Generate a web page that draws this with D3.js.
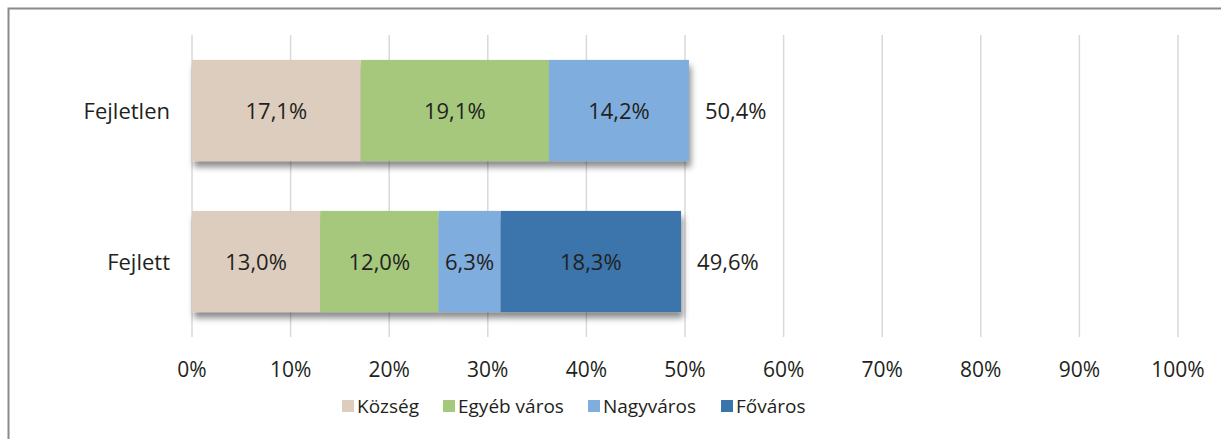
<!DOCTYPE html>
<html>
<head>
<meta charset="utf-8">
<script src="https://cdn.jsdelivr.net/npm/d3@7"></script>
<style>
  body { margin: 0; background: #fff; }
  text { font-family: "Open Sans", "Noto Sans", sans-serif; fill: #231f20; }
</style>
</head>
<body>
<svg id="chart"></svg>
<script>
var width = 1221,
    height = 439;

// data
var categories = ['Fejletlen', 'Fejlett'];
var seriesNames = ['Község', 'Egyéb város', 'Nagyváros', 'Főváros'];
var seriesColors = ['#ddcdbe', '#a5c87d', '#7fadde', '#3b74ab'];
var kozseg = [17.1, 13.0];
var egyebVaros = [19.1, 12.0];
var nagyvaros = [14.2, 6.3];
var fovaros = [0, 18.3];
var totals = [50.4, 49.6];
var tickValues = [0, 10, 20, 30, 40, 50, 60, 70, 80, 90, 100];

var rows = categories.map(function(c, i) {
  return { cat: c, 'Község': kozseg[i], 'Egyéb város': egyebVaros[i],
           'Nagyváros': nagyvaros[i], 'Főváros': fovaros[i], total: totals[i] };
});

var svg = d3.select('#chart')
    .attr('width', width)
    .attr('height', height);

var defs = svg.append('defs');
var f = defs.append('filter').attr('id', 'shadow')
    .attr('x', '-5%').attr('y', '-10%').attr('width', '115%').attr('height', '140%');
f.append('feDropShadow')
  .attr('dx', 2).attr('dy', 6).attr('stdDeviation', 3)
  .attr('flood-color', '#000').attr('flood-opacity', 0.45);

// outer frame
svg.append('rect')
  .attr('x', 8.5).attr('y', 8.5)
  .attr('width', width + 10).attr('height', height + 10)
  .attr('fill', 'none')
  .attr('stroke', '#8a8a8a')
  .attr('stroke-width', 2);

var x = d3.scaleLinear().domain([0, 100]).range([192, 1178]);
var y = d3.scaleBand().domain(categories).range([35, 337]).paddingInner(0.33).paddingOuter(0.165);

// gridlines
svg.append('g').selectAll('line')
  .data(tickValues)
  .enter().append('line')
  .attr('x1', function(d) { return x(d); })
  .attr('x2', function(d) { return x(d); })
  .attr('y1', 35).attr('y2', 337)
  .attr('stroke', '#d9d9d9')
  .attr('stroke-width', 1.5);

// tick labels
svg.append('g').selectAll('text')
  .data(tickValues)
  .enter().append('text')
  .attr('x', function(d) { return x(d); })
  .attr('y', 377)
  .attr('font-size', 21)
  .style('text-anchor', 'middle')
  .text(function(d) { return d + '%'; });

// category labels
svg.append('g').selectAll('text')
  .data(categories)
  .enter().append('text')
  .attr('x', 170)
  .attr('y', function(d) { return y(d) + y.bandwidth() / 2 + 8; })
  .attr('font-size', 22)
  .style('text-anchor', 'end')
  .text(function(d) { return d; });

var stack = d3.stack().keys(seriesNames);
var stacked = stack(rows);
var fmt = function(v) { return v.toFixed(1).replace('.', ',') + '%'; };

// bars, one shadowed group per row
categories.forEach(function(cat, i) {
  var g = svg.append('g').attr('filter', 'url(#shadow)');
  stacked.forEach(function(layer, k) {
    var d = layer[i];
    if (d[1] - d[0] <= 0) return;
    g.append('rect')
      .attr('x', x(d[0]))
      .attr('y', y(cat))
      .attr('width', x(d[1]) - x(d[0]))
      .attr('height', y.bandwidth())
      .attr('fill', seriesColors[k]);
  });
  stacked.forEach(function(layer, k) {
    var d = layer[i];
    if (d[1] - d[0] <= 0) return;
    svg.append('text')
      .attr('x', (x(d[0]) + x(d[1])) / 2)
      .attr('y', y(cat) + y.bandwidth() / 2 + 8)
      .attr('font-size', 22)
      .style('text-anchor', 'middle')
      .text(fmt(d[1] - d[0]));
  });
  svg.append('text')
    .attr('x', x(totals[i]) + 16)
    .attr('y', y(cat) + y.bandwidth() / 2 + 8)
    .attr('font-size', 22)
    .text(fmt(totals[i]));
});

// legend
var legendX = [342, 443, 588, 721];
var legend = svg.append('g').selectAll('g')
  .data(seriesNames)
  .enter().append('g')
  .attr('transform', function(d, i) { return 'translate(' + legendX[i] + ',400)'; });
legend.append('rect')
  .attr('width', 12).attr('height', 12)
  .attr('fill', function(d, i) { return seriesColors[i]; });
legend.append('text')
  .attr('x', 15).attr('y', 13)
  .attr('font-size', 19)
  .text(function(d) { return d; });
</script>
</body>
</html>
